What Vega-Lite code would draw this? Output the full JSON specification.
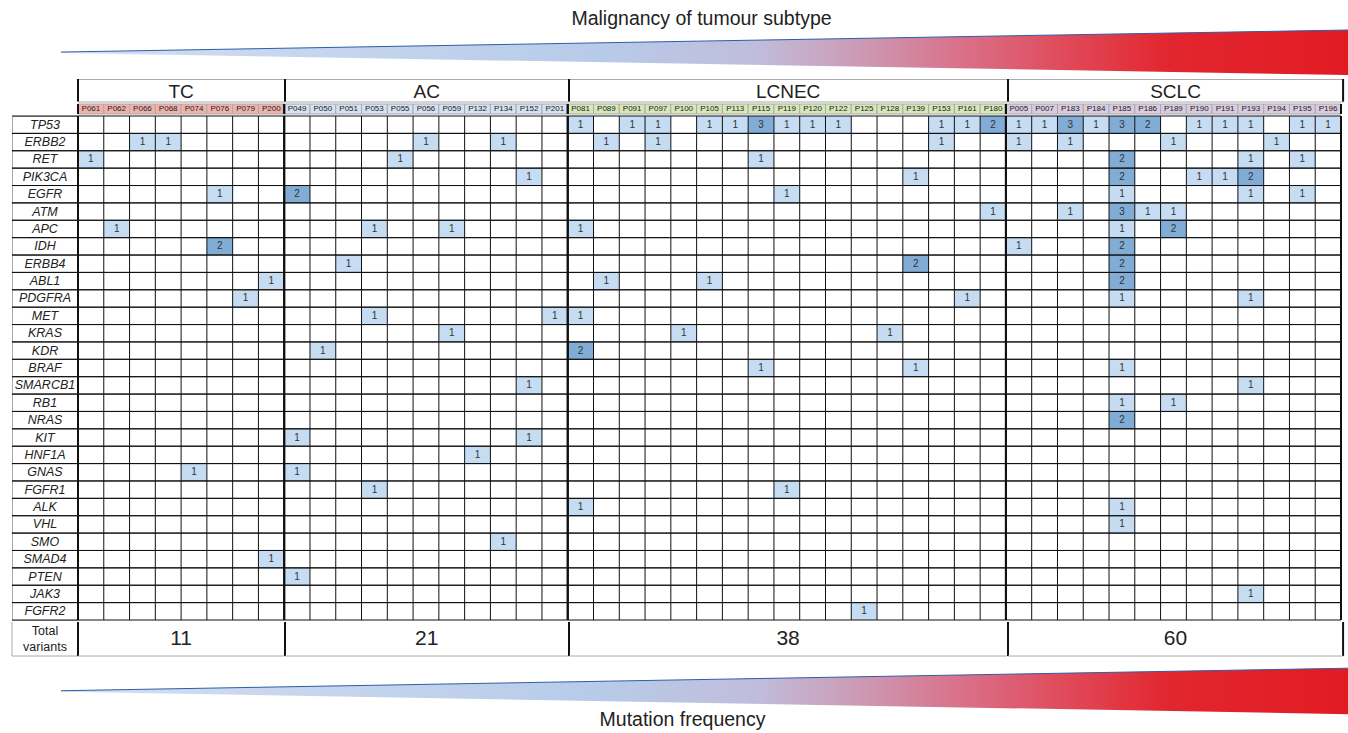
{
"$schema": "https://vega.github.io/schema/vega-lite/v6.json",
"padding": {"left": 11, "top": 8, "right": 0, "bottom": 0},
"spacing": 0,
"config": {"font": "Liberation Sans", "view": {"stroke": "#aaaaaa", "strokeWidth": 1}, "concat": {"spacing": 0}, "title": {"font": "Liberation Sans", "fontWeight": "normal", "color": "#222222"}},
"datasets": {
"wedge": [{"t": 0, "lo": -0.02, "hi": 0.02}, {"t": 1, "lo": -1, "hi": 1}],
"groups": [
{"group": "TC", "from": "P061", "to": "P200", "total": 11},
{"group": "AC", "from": "P049", "to": "P201", "total": 21},
{"group": "LCNEC", "from": "P081", "to": "P180", "total": 38},
{"group": "SCLC", "from": "P005", "to": "P196", "total": 60}],
"patients": [
{"p":"P061","group":"TC"},{"p":"P062","group":"TC"},{"p":"P066","group":"TC"},{"p":"P068","group":"TC"},{"p":"P074","group":"TC"},{"p":"P076","group":"TC"},{"p":"P079","group":"TC"},{"p":"P200","group":"TC"},
{"p":"P049","group":"AC"},{"p":"P050","group":"AC"},{"p":"P051","group":"AC"},{"p":"P053","group":"AC"},{"p":"P055","group":"AC"},{"p":"P056","group":"AC"},{"p":"P059","group":"AC"},{"p":"P132","group":"AC"},{"p":"P134","group":"AC"},{"p":"P152","group":"AC"},{"p":"P201","group":"AC"},
{"p":"P081","group":"LCNEC"},{"p":"P089","group":"LCNEC"},{"p":"P091","group":"LCNEC"},{"p":"P097","group":"LCNEC"},{"p":"P100","group":"LCNEC"},{"p":"P105","group":"LCNEC"},{"p":"P113","group":"LCNEC"},{"p":"P115","group":"LCNEC"},{"p":"P119","group":"LCNEC"},{"p":"P120","group":"LCNEC"},{"p":"P122","group":"LCNEC"},{"p":"P125","group":"LCNEC"},{"p":"P128","group":"LCNEC"},{"p":"P139","group":"LCNEC"},{"p":"P153","group":"LCNEC"},{"p":"P161","group":"LCNEC"},{"p":"P180","group":"LCNEC"},
{"p":"P005","group":"SCLC"},{"p":"P007","group":"SCLC"},{"p":"P183","group":"SCLC"},{"p":"P184","group":"SCLC"},{"p":"P185","group":"SCLC"},{"p":"P186","group":"SCLC"},{"p":"P189","group":"SCLC"},{"p":"P190","group":"SCLC"},{"p":"P191","group":"SCLC"},{"p":"P193","group":"SCLC"},{"p":"P194","group":"SCLC"},{"p":"P195","group":"SCLC"},{"p":"P196","group":"SCLC"}],
"genes": [{"gene":"TP53"},{"gene":"ERBB2"},{"gene":"RET"},{"gene":"PIK3CA"},{"gene":"EGFR"},{"gene":"ATM"},{"gene":"APC"},{"gene":"IDH"},{"gene":"ERBB4"},{"gene":"ABL1"},{"gene":"PDGFRA"},{"gene":"MET"},{"gene":"KRAS"},{"gene":"KDR"},{"gene":"BRAF"},{"gene":"SMARCB1"},{"gene":"RB1"},{"gene":"NRAS"},{"gene":"KIT"},{"gene":"HNF1A"},{"gene":"GNAS"},{"gene":"FGFR1"},{"gene":"ALK"},{"gene":"VHL"},{"gene":"SMO"},{"gene":"SMAD4"},{"gene":"PTEN"},{"gene":"JAK3"},{"gene":"FGFR2"}],
"cells": [
{"p":"P081","gene":"TP53","n":1},{"p":"P091","gene":"TP53","n":1},{"p":"P097","gene":"TP53","n":1},{"p":"P105","gene":"TP53","n":1},{"p":"P113","gene":"TP53","n":1},{"p":"P115","gene":"TP53","n":3},{"p":"P119","gene":"TP53","n":1},{"p":"P120","gene":"TP53","n":1},{"p":"P122","gene":"TP53","n":1},{"p":"P153","gene":"TP53","n":1},{"p":"P161","gene":"TP53","n":1},{"p":"P180","gene":"TP53","n":2},{"p":"P005","gene":"TP53","n":1},{"p":"P007","gene":"TP53","n":1},{"p":"P183","gene":"TP53","n":3},{"p":"P184","gene":"TP53","n":1},{"p":"P185","gene":"TP53","n":3},{"p":"P186","gene":"TP53","n":2},{"p":"P190","gene":"TP53","n":1},{"p":"P191","gene":"TP53","n":1},{"p":"P193","gene":"TP53","n":1},{"p":"P195","gene":"TP53","n":1},{"p":"P196","gene":"TP53","n":1},
{"p":"P066","gene":"ERBB2","n":1},{"p":"P068","gene":"ERBB2","n":1},{"p":"P056","gene":"ERBB2","n":1},{"p":"P134","gene":"ERBB2","n":1},{"p":"P089","gene":"ERBB2","n":1},{"p":"P097","gene":"ERBB2","n":1},{"p":"P153","gene":"ERBB2","n":1},{"p":"P005","gene":"ERBB2","n":1},{"p":"P183","gene":"ERBB2","n":1},{"p":"P189","gene":"ERBB2","n":1},{"p":"P194","gene":"ERBB2","n":1},
{"p":"P061","gene":"RET","n":1},{"p":"P055","gene":"RET","n":1},{"p":"P115","gene":"RET","n":1},{"p":"P185","gene":"RET","n":2},{"p":"P193","gene":"RET","n":1},{"p":"P195","gene":"RET","n":1},
{"p":"P152","gene":"PIK3CA","n":1},{"p":"P139","gene":"PIK3CA","n":1},{"p":"P185","gene":"PIK3CA","n":2},{"p":"P190","gene":"PIK3CA","n":1},{"p":"P191","gene":"PIK3CA","n":1},{"p":"P193","gene":"PIK3CA","n":2},
{"p":"P076","gene":"EGFR","n":1},{"p":"P049","gene":"EGFR","n":2},{"p":"P119","gene":"EGFR","n":1},{"p":"P185","gene":"EGFR","n":1},{"p":"P193","gene":"EGFR","n":1},{"p":"P195","gene":"EGFR","n":1},
{"p":"P180","gene":"ATM","n":1},{"p":"P183","gene":"ATM","n":1},{"p":"P185","gene":"ATM","n":3},{"p":"P186","gene":"ATM","n":1},{"p":"P189","gene":"ATM","n":1},
{"p":"P062","gene":"APC","n":1},{"p":"P053","gene":"APC","n":1},{"p":"P059","gene":"APC","n":1},{"p":"P081","gene":"APC","n":1},{"p":"P185","gene":"APC","n":1},{"p":"P189","gene":"APC","n":2},
{"p":"P076","gene":"IDH","n":2},{"p":"P005","gene":"IDH","n":1},{"p":"P185","gene":"IDH","n":2},
{"p":"P051","gene":"ERBB4","n":1},{"p":"P139","gene":"ERBB4","n":2},{"p":"P185","gene":"ERBB4","n":2},
{"p":"P200","gene":"ABL1","n":1},{"p":"P089","gene":"ABL1","n":1},{"p":"P105","gene":"ABL1","n":1},{"p":"P185","gene":"ABL1","n":2},
{"p":"P079","gene":"PDGFRA","n":1},{"p":"P161","gene":"PDGFRA","n":1},{"p":"P185","gene":"PDGFRA","n":1},{"p":"P193","gene":"PDGFRA","n":1},
{"p":"P053","gene":"MET","n":1},{"p":"P201","gene":"MET","n":1},{"p":"P081","gene":"MET","n":1},
{"p":"P059","gene":"KRAS","n":1},{"p":"P100","gene":"KRAS","n":1},{"p":"P128","gene":"KRAS","n":1},
{"p":"P050","gene":"KDR","n":1},{"p":"P081","gene":"KDR","n":2},
{"p":"P115","gene":"BRAF","n":1},{"p":"P139","gene":"BRAF","n":1},{"p":"P185","gene":"BRAF","n":1},
{"p":"P152","gene":"SMARCB1","n":1},{"p":"P193","gene":"SMARCB1","n":1},
{"p":"P185","gene":"RB1","n":1},{"p":"P189","gene":"RB1","n":1},
{"p":"P185","gene":"NRAS","n":2},
{"p":"P049","gene":"KIT","n":1},{"p":"P152","gene":"KIT","n":1},
{"p":"P132","gene":"HNF1A","n":1},
{"p":"P074","gene":"GNAS","n":1},{"p":"P049","gene":"GNAS","n":1},
{"p":"P053","gene":"FGFR1","n":1},{"p":"P119","gene":"FGFR1","n":1},
{"p":"P081","gene":"ALK","n":1},{"p":"P185","gene":"ALK","n":1},
{"p":"P185","gene":"VHL","n":1},
{"p":"P134","gene":"SMO","n":1},
{"p":"P200","gene":"SMAD4","n":1},
{"p":"P049","gene":"PTEN","n":1},
{"p":"P193","gene":"JAK3","n":1},
{"p":"P125","gene":"FGFR2","n":1}]
},
"vconcat": [
{
"width": 1337, "height": 46.5, "view": {"stroke": null},
"title": {"text": "Malignancy of tumour subtype", "fontSize": 19.5, "offset": -1, "anchor": "middle", "dx": 21},
"data": {"name": "wedge"},
"layer": [
{"mark": {"type": "area", "opacity": 1, "color": {"gradient": "linear", "x1": 0, "y1": 0, "x2": 1, "y2": 0, "stops": [{"offset": 0, "color": "#d3dff1"}, {"offset": 0.42, "color": "#b7cbe9"}, {"offset": 0.54, "color": "#c0bddb"}, {"offset": 0.62, "color": "#cc9ab5"}, {"offset": 0.7, "color": "#da7089"}, {"offset": 0.78, "color": "#e04a5a"}, {"offset": 0.86, "color": "#e2262f"}, {"offset": 1, "color": "#e21b23"}]}},
 "encoding": {"x": {"field": "t", "type": "quantitative", "scale": {"domain": [-0.03805, 1], "nice": false, "zero": false}, "axis": null}, "y": {"field": "lo", "type": "quantitative", "scale": {"domain": [-1.0667, 1], "nice": false, "zero": false}, "axis": null}, "y2": {"field": "hi"}}},
{"mark": {"type": "line", "color": "#2d5fa8", "strokeWidth": 1}, "encoding": {"x": {"field": "t", "type": "quantitative"}, "y": {"field": "hi", "type": "quantitative"}}}
]
},
{"hconcat": [
{"width": 66, "height": 22.5, "data": {"values": [{}]}, "mark": {"type": "text", "text": ""}, "encoding": {}},
{"width": 206.204, "height": 22.5, "data": {"name": "groups"}, "transform": [{"filter": "datum.group === 'TC'"}],
 "layer": [
 {"mark": {"type": "text", "fontSize": 19, "color": "#222222", "dy": 2}, "encoding": {"text": {"field": "group", "type": "nominal"}}},
 {"mark": {"type": "rule", "color": "#111111", "strokeWidth": 2}, "encoding": {"x": {"datum": 0, "type": "quantitative", "scale": {"domain": [0, 1]}, "axis": null}}}]},
{"width": 283.531, "height": 22.5, "data": {"name": "groups"}, "transform": [{"filter": "datum.group === 'AC'"}],
 "layer": [
 {"mark": {"type": "text", "fontSize": 19, "color": "#222222", "dy": 2}, "encoding": {"text": {"field": "group", "type": "nominal"}}},
 {"mark": {"type": "rule", "color": "#111111", "strokeWidth": 2}, "encoding": {"x": {"datum": 0, "type": "quantitative", "scale": {"domain": [0, 1]}, "axis": null}}}]},
{"width": 438.184, "height": 22.5, "data": {"name": "groups"}, "transform": [{"filter": "datum.group === 'LCNEC'"}],
 "layer": [
 {"mark": {"type": "text", "fontSize": 19, "color": "#222222", "dy": 2}, "encoding": {"text": {"field": "group", "type": "nominal"}}},
 {"mark": {"type": "rule", "color": "#111111", "strokeWidth": 2}, "encoding": {"x": {"datum": 0, "type": "quantitative", "scale": {"domain": [0, 1]}, "axis": null}}}]},
{"width": 335.081, "height": 22.5, "data": {"name": "groups"}, "transform": [{"filter": "datum.group === 'SCLC'"}],
 "layer": [
 {"mark": {"type": "text", "fontSize": 19, "color": "#222222", "dy": 2}, "encoding": {"text": {"field": "group", "type": "nominal"}}},
 {"mark": {"type": "rule", "color": "#111111", "strokeWidth": 2}, "encoding": {"x": {"datum": 0, "type": "quantitative", "scale": {"domain": [0, 1]}, "axis": null}}},
 {"mark": {"type": "rule", "color": "#111111", "strokeWidth": 2}, "encoding": {"x": {"datum": 1, "type": "quantitative"}}}]}
], "spacing": 0, "bounds": "flush"},
{"hconcat": [
{"width": 66, "height": 10, "data": {"values": [{}]}, "mark": {"type": "text", "text": ""}, "encoding": {}},
{"width": 1263, "height": 10, "view": {"stroke": null},
 "layer": [
 {"data": {"name": "patients"}, "mark": {"type": "rect", "stroke": "#aaaaaa", "strokeWidth": 1},
  "encoding": {"x": {"field": "p", "type": "nominal", "scale": {"domain": ["P061","P062","P066","P068","P074","P076","P079","P200","P049","P050","P051","P053","P055","P056","P059","P132","P134","P152","P201","P081","P089","P091","P097","P100","P105","P113","P115","P119","P120","P122","P125","P128","P139","P153","P161","P180","P005","P007","P183","P184","P185","P186","P189","P190","P191","P193","P194","P195","P196"], "paddingInner": 0, "paddingOuter": 0}, "axis": null},
   "color": {"field": "group", "type": "nominal", "scale": {"domain": ["TC", "AC", "LCNEC", "SCLC"], "range": ["#f2b2ac", "#d4e2f3", "#d7e8b8", "#dbcbe0"]}, "legend": null}}},
 {"data": {"name": "patients"}, "mark": {"type": "text", "fontSize": 8, "color": "#222222"}, "encoding": {"x": {"field": "p", "type": "nominal"}, "text": {"field": "p", "type": "nominal"}}},
 {"data": {"name": "groups"}, "mark": {"type": "rule", "color": "#111111", "strokeWidth": 2}, "encoding": {"x": {"field": "from", "type": "nominal", "bandPosition": 0}}},
 {"data": {"name": "groups"}, "mark": {"type": "rule", "color": "#111111", "strokeWidth": 2}, "encoding": {"x": {"field": "to", "type": "nominal", "bandPosition": 1}}}
 ]}
], "spacing": 0, "bounds": "flush"},
{"hconcat": [
{"width": 66, "height": 504, "data": {"name": "genes"},
 "layer": [
 {"mark": {"type": "text", "fontSize": 12.5, "fontStyle": "italic", "color": "#222222"}, "encoding": {"y": {"field": "gene", "type": "nominal", "scale": {"domain": ["TP53","ERBB2","RET","PIK3CA","EGFR","ATM","APC","IDH","ERBB4","ABL1","PDGFRA","MET","KRAS","KDR","BRAF","SMARCB1","RB1","NRAS","KIT","HNF1A","GNAS","FGFR1","ALK","VHL","SMO","SMAD4","PTEN","JAK3","FGFR2"], "paddingInner": 0, "paddingOuter": 0}, "axis": null}, "text": {"field": "gene", "type": "nominal"}}},
 {"mark": {"type": "rule", "color": "#111111", "strokeWidth": 1}, "encoding": {"y": {"field": "gene", "type": "nominal", "bandPosition": 0}}},
 {"mark": {"type": "rule", "color": "#111111", "strokeWidth": 1}, "encoding": {"y": {"field": "gene", "type": "nominal", "bandPosition": 1}}}
 ]},
{"width": 1263, "height": 504, "view": {"stroke": null},
 "layer": [
 {"data": {"name": "cells"}, "mark": {"type": "rect"},
  "encoding": {"x": {"field": "p", "type": "nominal", "scale": {"domain": ["P061","P062","P066","P068","P074","P076","P079","P200","P049","P050","P051","P053","P055","P056","P059","P132","P134","P152","P201","P081","P089","P091","P097","P100","P105","P113","P115","P119","P120","P122","P125","P128","P139","P153","P161","P180","P005","P007","P183","P184","P185","P186","P189","P190","P191","P193","P194","P195","P196"], "paddingInner": 0, "paddingOuter": 0}, "axis": null},
   "y": {"field": "gene", "type": "nominal", "scale": {"domain": ["TP53","ERBB2","RET","PIK3CA","EGFR","ATM","APC","IDH","ERBB4","ABL1","PDGFRA","MET","KRAS","KDR","BRAF","SMARCB1","RB1","NRAS","KIT","HNF1A","GNAS","FGFR1","ALK","VHL","SMO","SMAD4","PTEN","JAK3","FGFR2"], "paddingInner": 0, "paddingOuter": 0}, "axis": null},
   "color": {"field": "n", "type": "quantitative", "scale": {"type": "threshold", "domain": [2], "range": ["#c5dcf3", "#80acd6"]}, "legend": null}}},
 {"data": {"name": "cells"}, "mark": {"type": "text", "fontSize": 10, "color": "#333333"}, "encoding": {"x": {"field": "p", "type": "nominal"}, "y": {"field": "gene", "type": "nominal"}, "text": {"field": "n", "type": "quantitative"}}},
 {"data": {"name": "patients"}, "mark": {"type": "rule", "color": "#111111", "strokeWidth": 1}, "encoding": {"x": {"field": "p", "type": "nominal", "bandPosition": 0}}},
 {"data": {"name": "genes"}, "mark": {"type": "rule", "color": "#111111", "strokeWidth": 1}, "encoding": {"y": {"field": "gene", "type": "nominal", "bandPosition": 0}}},
 {"data": {"name": "genes"}, "mark": {"type": "rule", "color": "#111111", "strokeWidth": 1}, "encoding": {"y": {"field": "gene", "type": "nominal", "bandPosition": 1}}},
 {"data": {"name": "groups"}, "mark": {"type": "rule", "color": "#111111", "strokeWidth": 2}, "encoding": {"x": {"field": "from", "type": "nominal", "bandPosition": 0}}},
 {"data": {"name": "groups"}, "mark": {"type": "rule", "color": "#111111", "strokeWidth": 2}, "encoding": {"x": {"field": "to", "type": "nominal", "bandPosition": 1}}}
 ]}
], "spacing": 0, "bounds": "flush"},
{"hconcat": [
{"width": 66, "height": 34, "view": {"stroke": null}, "data": {"values": [{}]},
 "layer": [
 {"mark": {"type": "text", "text": ["Total", "variants"], "fontSize": 12.5, "lineHeight": 16, "dy": -8, "color": "#222222"}, "encoding": {}},
 {"mark": {"type": "rule", "color": "#aaaaaa", "strokeWidth": 1}, "encoding": {"x": {"datum": 0, "type": "quantitative", "scale": {"domain": [0, 1]}, "axis": null}}},
 {"mark": {"type": "rule", "color": "#aaaaaa", "strokeWidth": 1}, "encoding": {"y": {"datum": 0, "type": "quantitative", "scale": {"domain": [0, 1]}, "axis": null}}}]},
{"width": 206.204, "height": 34, "view": {"stroke": null}, "data": {"name": "groups"}, "transform": [{"filter": "datum.group === 'TC'"}],
 "layer": [
 {"mark": {"type": "text", "fontSize": 21, "color": "#222222"}, "encoding": {"text": {"field": "total", "type": "quantitative"}}},
 {"mark": {"type": "rule", "color": "#111111", "strokeWidth": 2}, "encoding": {"x": {"datum": 0, "type": "quantitative", "scale": {"domain": [0, 1]}, "axis": null}}},
 {"mark": {"type": "rule", "color": "#aaaaaa", "strokeWidth": 1}, "encoding": {"y": {"datum": 0, "type": "quantitative", "scale": {"domain": [0, 1]}, "axis": null}}}]},
{"width": 283.531, "height": 34, "view": {"stroke": null}, "data": {"name": "groups"}, "transform": [{"filter": "datum.group === 'AC'"}],
 "layer": [
 {"mark": {"type": "text", "fontSize": 21, "color": "#222222"}, "encoding": {"text": {"field": "total", "type": "quantitative"}}},
 {"mark": {"type": "rule", "color": "#111111", "strokeWidth": 2}, "encoding": {"x": {"datum": 0, "type": "quantitative", "scale": {"domain": [0, 1]}, "axis": null}}},
 {"mark": {"type": "rule", "color": "#aaaaaa", "strokeWidth": 1}, "encoding": {"y": {"datum": 0, "type": "quantitative", "scale": {"domain": [0, 1]}, "axis": null}}}]},
{"width": 438.184, "height": 34, "view": {"stroke": null}, "data": {"name": "groups"}, "transform": [{"filter": "datum.group === 'LCNEC'"}],
 "layer": [
 {"mark": {"type": "text", "fontSize": 21, "color": "#222222"}, "encoding": {"text": {"field": "total", "type": "quantitative"}}},
 {"mark": {"type": "rule", "color": "#111111", "strokeWidth": 2}, "encoding": {"x": {"datum": 0, "type": "quantitative", "scale": {"domain": [0, 1]}, "axis": null}}},
 {"mark": {"type": "rule", "color": "#aaaaaa", "strokeWidth": 1}, "encoding": {"y": {"datum": 0, "type": "quantitative", "scale": {"domain": [0, 1]}, "axis": null}}}]},
{"width": 335.081, "height": 34, "view": {"stroke": null}, "data": {"name": "groups"}, "transform": [{"filter": "datum.group === 'SCLC'"}],
 "layer": [
 {"mark": {"type": "text", "fontSize": 21, "color": "#222222"}, "encoding": {"text": {"field": "total", "type": "quantitative"}}},
 {"mark": {"type": "rule", "color": "#111111", "strokeWidth": 2}, "encoding": {"x": {"datum": 0, "type": "quantitative", "scale": {"domain": [0, 1]}, "axis": null}}},
 {"mark": {"type": "rule", "color": "#111111", "strokeWidth": 2}, "encoding": {"x": {"datum": 1, "type": "quantitative"}}},
 {"mark": {"type": "rule", "color": "#aaaaaa", "strokeWidth": 1}, "encoding": {"y": {"datum": 0, "type": "quantitative", "scale": {"domain": [0, 1]}, "axis": null}}}]}
], "spacing": 0, "bounds": "flush"},
{
"width": 1337, "height": 57.2, "view": {"stroke": null},
"title": {"text": "Mutation frequency", "orient": "bottom", "fontSize": 19.5, "offset": -3, "anchor": "middle", "dx": 2},
"data": {"name": "wedge"},
"layer": [
{"mark": {"type": "area", "opacity": 1, "color": {"gradient": "linear", "x1": 0, "y1": 0, "x2": 1, "y2": 0, "stops": [{"offset": 0, "color": "#d3dff1"}, {"offset": 0.42, "color": "#b7cbe9"}, {"offset": 0.54, "color": "#c0bddb"}, {"offset": 0.62, "color": "#cc9ab5"}, {"offset": 0.7, "color": "#da7089"}, {"offset": 0.78, "color": "#e04a5a"}, {"offset": 0.86, "color": "#e2262f"}, {"offset": 1, "color": "#e21b23"}]}},
 "encoding": {"x": {"field": "t", "type": "quantitative", "scale": {"domain": [-0.03805, 1], "nice": false, "zero": false}, "axis": null}, "y": {"field": "lo", "type": "quantitative", "scale": {"domain": [-1, 1.487], "nice": false, "zero": false}, "axis": null}, "y2": {"field": "hi"}}},
{"mark": {"type": "line", "color": "#2d5fa8", "strokeWidth": 1}, "encoding": {"x": {"field": "t", "type": "quantitative"}, "y": {"field": "hi", "type": "quantitative"}}}
]
}
]
}
